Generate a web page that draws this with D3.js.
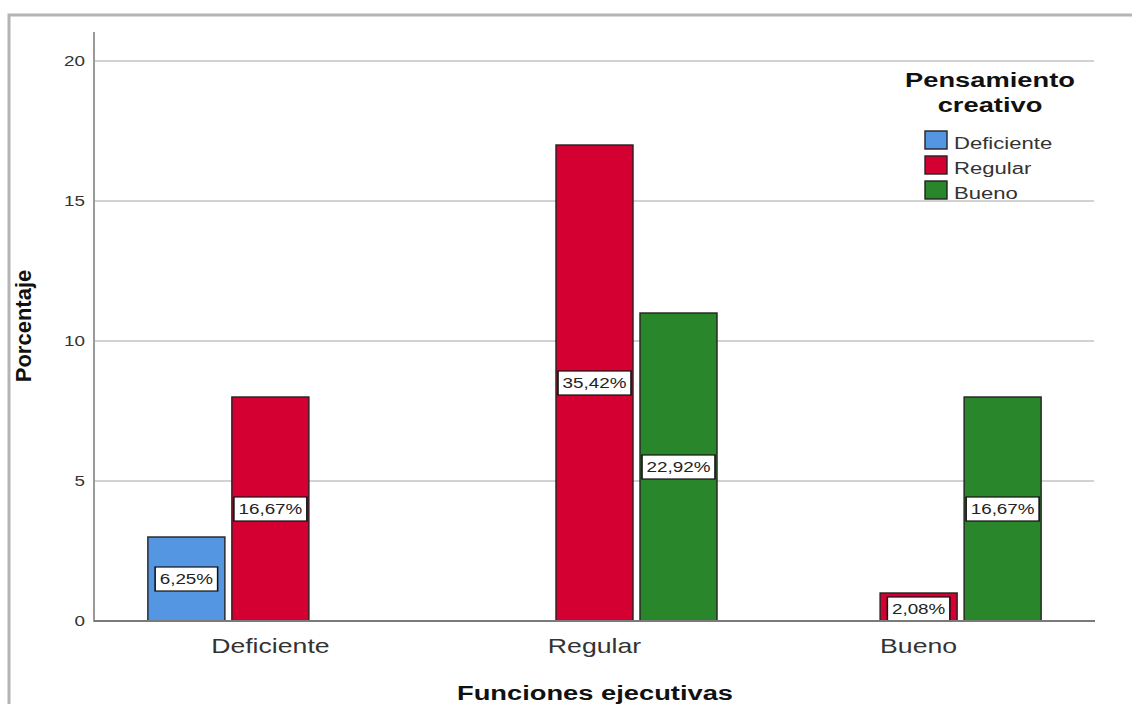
<!DOCTYPE html>
<html>
<head>
<meta charset="utf-8">
<script src="https://cdn.jsdelivr.net/npm/d3@7"></script>
<style>
  html, body { margin: 0; padding: 0; background: #fff; }
  svg { display: block; font-family: "Liberation Sans", Arial, sans-serif; }
</style>
</head>
<body>
<div id="grafik"></div>
<script>
// datos
const categorias = ["Deficiente", "Regular", "Bueno"];
const series = ["Deficiente", "Regular", "Bueno"];
const valores = {
  Deficiente: [3, 8, null],
  Regular: [null, 17, 11],
  Bueno: [null, 1, 8]
};
const etiquetas = {
  Deficiente: ["6,25%", "16,67%", null],
  Regular: [null, "35,42%", "22,92%"],
  Bueno: [null, "2,08%", "16,67%"]
};
const yTicks = [0, 5, 10, 15, 20];
const colores = ["#5596e3", "#d40032", "#2a862a"];

const W = 1132, H = 704;
const SX = 1.3; // el grafico original viene estirado a lo ancho

const svg = d3.select("#grafik").append("svg")
  .attr("width", W).attr("height", H);

// marco gris
svg.append("rect")
  .attr("x", 9).attr("y", 15)
  .attr("width", 1300).attr("height", 900)
  .attr("fill", "none").attr("stroke", "#b4b4b4").attr("stroke-width", 3);

const x0 = d3.scaleBand()
  .domain(categorias)
  .range([108, 1081])
  .paddingInner(0.244)
  .paddingOuter(0.123);

const x1 = d3.scaleBand()
  .domain(series)
  .range([0, x0.bandwidth()])
  .paddingInner(0.083);

const y = d3.scaleLinear().domain([0, 21]).range([621, 33]);

const color = d3.scaleOrdinal().domain(series).range(colores);

// texto estirado horizontal
function texto(g, x, yy, str, size, weight, anchor, fill) {
  const t = g.append("g").attr("transform", `translate(${x},${yy}) scale(${SX},1)`);
  t.append("text")
    .attr("text-anchor", anchor)
    .style("font-size", size + "px")
    .style("font-weight", weight)
    .attr("fill", fill)
    .text(str);
  return t;
}

// grid
svg.append("g").selectAll("line")
  .data(yTicks.filter(d => d > 0))
  .enter().append("line")
  .attr("x1", 94).attr("x2", 1094)
  .attr("y1", d => y(d)).attr("y2", d => y(d))
  .attr("stroke", "#d2d2d2").attr("stroke-width", 2);

// eje y
const yAxis = svg.append("g")
  .attr("transform", "translate(94,0)")
  .call(d3.axisLeft(y).tickValues(yTicks).tickSize(0).tickPadding(7));
yAxis.select(".domain").remove();
yAxis.selectAll("text")
  .attr("transform", `scale(${SX},1)`)
  .style("font-size", "14.5px")
  .style("font-family", "'Liberation Sans', Arial, sans-serif")
  .attr("fill", "#333");

svg.append("line")
  .attr("x1", 94).attr("x2", 94)
  .attr("y1", 32).attr("y2", y(0) + 1)
  .attr("stroke", "#9a9a9a").attr("stroke-width", 2);

// barras
categorias.forEach(cat => {
  const g = svg.append("g").attr("transform", `translate(${x0(cat)},0)`);
  series.forEach((s, i) => {
    const v = valores[cat][i];
    if (v == null) return;
    g.append("rect")
      .attr("x", x1(s))
      .attr("y", y(v))
      .attr("width", x1.bandwidth())
      .attr("height", y(0) - y(v))
      .attr("fill", color(s))
      .attr("stroke", "#222")
      .attr("stroke-width", 1.4);
  });
  series.forEach((s, i) => {
    const v = valores[cat][i];
    if (v == null) return;
    const cx = x1(s) + x1.bandwidth() / 2;
    const cy = (y(v) + y(0)) / 2 + (v < 2 ? 2 : 0);
    const t = g.append("g").attr("transform", `translate(${cx},${cy}) scale(${SX},1)`);
    const txt = t.append("text")
      .attr("text-anchor", "middle")
      .attr("dy", "0.36em")
      .style("font-size", "14.5px")
      .attr("fill", "#222")
      .text(etiquetas[cat][i]);
    const len = txt.node().getComputedTextLength();
    t.insert("rect", "text")
      .attr("x", -len / 2 - 3.5)
      .attr("y", -12)
      .attr("width", len + 7)
      .attr("height", 24)
      .attr("fill", "#fff")
      .attr("stroke", "#111")
      .attr("stroke-width", 1.2);
  });
  // etiqueta categoria
  texto(svg, x0(cat) + x0.bandwidth() / 2, 653, cat, 20.5, "normal", "middle", "#333");
});

// linea base
svg.append("line")
  .attr("x1", 94).attr("x2", 1095)
  .attr("y1", y(0)).attr("y2", y(0))
  .attr("stroke", "#7a7a7a").attr("stroke-width", 2);

// titulos ejes
texto(svg, 595, 700, "Funciones ejecutivas", 21, "bold", "middle", "#111");

svg.append("text")
  .attr("transform", "translate(31,326) rotate(-90)")
  .attr("text-anchor", "middle")
  .style("font-size", "22px")
  .style("font-weight", "bold")
  .attr("fill", "#111")
  .text("Porcentaje");

// leyenda
const leg = svg.append("g");
texto(leg, 990, 87, "Pensamiento", 21, "bold", "middle", "#111");
texto(leg, 990, 112, "creativo", 21, "bold", "middle", "#111");

series.forEach((s, i) => {
  const yy = 131 + i * 25;
  leg.append("rect")
    .attr("x", 925).attr("y", yy)
    .attr("width", 22).attr("height", 18)
    .attr("fill", color(s))
    .attr("stroke", "#222").attr("stroke-width", 1.4);
  texto(leg, 954, yy + 18, s, 17, "normal", "start", "#333");
});
</script>
</body>
</html>
